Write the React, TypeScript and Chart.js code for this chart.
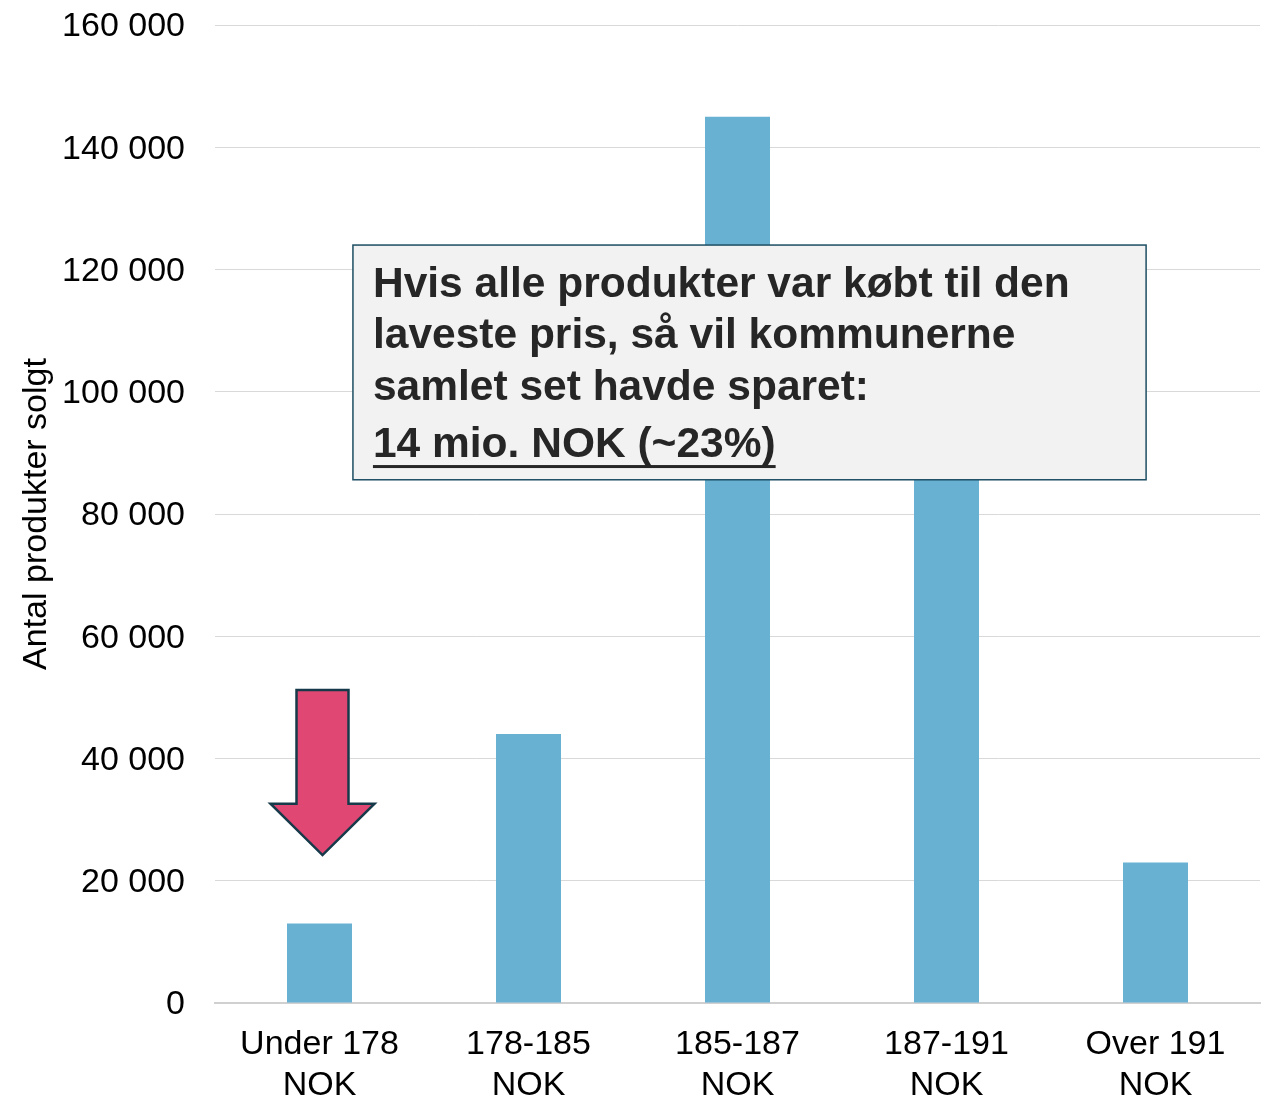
import React, { useEffect, useRef } from "react";
import { Chart, registerables } from "chart.js";

Chart.register(...registerables);

const categories: string[][] = [
  ["Under 178", "NOK"],
  ["178-185", "NOK"],
  ["185-187", "NOK"],
  ["187-191", "NOK"],
  ["Over 191", "NOK"],
];
const soldCounts: number[] = [13000, 44000, 145000, 115000, 23000];
const yTicks: number[] = [0, 20000, 40000, 60000, 80000, 100000, 120000, 140000, 160000];
const boxLines: string[] = [
  "Hvis alle produkter var købt til den",
  "laveste pris, så vil kommunerne",
  "samlet set havde sparet:",
];
const boxHighlight = "14 mio. NOK (~23%)";

const FONT = "'Liberation Sans', Arial, sans-serif";

const fmt = (v: number) => String(v).replace(/\B(?=(\d{3})+(?!\d))/g, " ");

const annotationPlugin = {
  id: "annotations",
  afterDatasetsDraw(chart: any) {
    const { ctx, chartArea, scales } = chart;
    const x = scales.x;
    const y = scales.y;
    const w = chartArea.right - chartArea.left;
    ctx.save();
    // Arrow
    const cx = x.getPixelForValue(0) + 3;
    const yTop = y.getPixelForValue(51200);
    const yBase = y.getPixelForValue(32600);
    const yTip = y.getPixelForValue(24200);
    const shaftHalf = 26;
    const headHalf = 52;
    ctx.beginPath();
    ctx.moveTo(cx - shaftHalf, yTop);
    ctx.lineTo(cx + shaftHalf, yTop);
    ctx.lineTo(cx + shaftHalf, yBase);
    ctx.lineTo(cx + headHalf, yBase);
    ctx.lineTo(cx, yTip);
    ctx.lineTo(cx - headHalf, yBase);
    ctx.lineTo(cx - shaftHalf, yBase);
    ctx.closePath();
    ctx.fillStyle = "#E04873";
    ctx.fill();
    ctx.lineWidth = 2.5;
    ctx.strokeStyle = "#173A4A";
    ctx.lineJoin = "miter";
    ctx.stroke();

    // Box
    const bl = chartArea.left + w * 0.132;
    const br = chartArea.left + w * 0.891;
    const bt = y.getPixelForValue(124000);
    const bb = y.getPixelForValue(85600);
    ctx.fillStyle = "#F2F2F2";
    ctx.fillRect(bl, bt, br - bl, bb - bt);
    ctx.lineWidth = 1.5;
    ctx.strokeStyle = "#1D4E63";
    ctx.strokeRect(bl, bt, br - bl, bb - bt);

    ctx.fillStyle = "#262626";
    ctx.font = `bold 42.5px ${FONT}`;
    ctx.textBaseline = "middle";
    ctx.textAlign = "left";
    const tx = bl + 20;
    const lineYs = [bt + 40, bt + 91, bt + 143];
    boxLines.forEach((t, i) => ctx.fillText(t, tx, lineYs[i]));
    const hy = bt + 200;
    ctx.fillText(boxHighlight, tx, hy);
    const tw = ctx.measureText(boxHighlight).width;
    ctx.fillRect(tx, hy + 20, tw, 3);
    ctx.restore();
  },
};

export default function App() {
  const ref = useRef<HTMLCanvasElement | null>(null);
  useEffect(() => {
    document.body.style.margin = "0";
    const canvas = ref.current;
    if (!canvas) return;
    const chart = new Chart(canvas, {
      type: "bar",
      data: {
        labels: categories,
        datasets: [
          {
            data: soldCounts,
            backgroundColor: "#68B1D3",
            categoryPercentage: 1,
            barPercentage: 0.311,
          },
        ],
      },
      options: {
        animation: false,
        responsive: false,
        layout: { padding: { top: 25, right: 1, left: 0, bottom: 0 } },
        plugins: { legend: { display: false }, tooltip: { enabled: false } },
        scales: {
          x: {
            grid: { display: false, drawTicks: false },
            border: { display: true, color: "#D0D0D0", width: 2 },
            ticks: {
              color: "#000",
              font: { family: FONT, size: 34, lineHeight: 1.18 },
              padding: 22,
              maxRotation: 0,
            },
            afterFit: (s: any) => {
              s.height = 93;
              s.paddingLeft = 0;
              s.paddingRight = 0;
            },
          },
          y: {
            min: 0,
            max: 160000,
            afterBuildTicks: (s: any) => {
              s.ticks = yTicks.map((v) => ({ value: v }));
            },
            grid: { color: "#D9D9D9", lineWidth: 1, drawTicks: false },
            border: { display: false },
            ticks: {
              color: "#000",
              font: { family: FONT, size: 34 },
              padding: 30,
              labelOffset: 2,
              callback: (v: any) => fmt(Number(v)),
            },
            title: {
              display: true,
              text: "Antal produkter solgt",
              color: "#000",
              font: { family: FONT, size: 34 },
              padding: { top: 16, bottom: 0 },
            },
            afterFit: (s: any) => {
              s.width = 215;
              s.paddingTop = 0;
              s.paddingBottom = 0;
            },
          },
        },
      },
      plugins: [annotationPlugin],
    });
    return () => chart.destroy();
  }, []);
  return <canvas ref={ref} width={1261} height={1096} style={{ display: "block" }} />;
}
